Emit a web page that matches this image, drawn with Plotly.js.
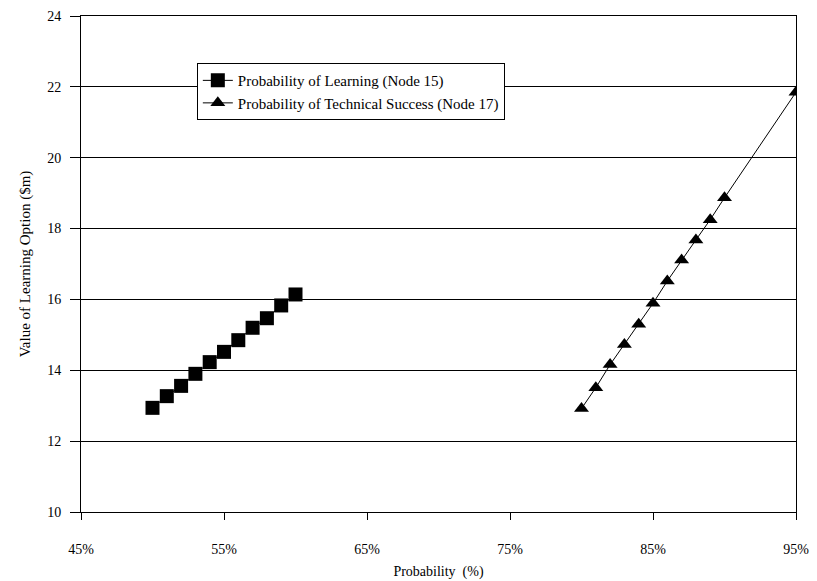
<!DOCTYPE html>
<html>
<head>
<meta charset="utf-8">
<script src="https://cdn.plot.ly/plotly-3.0.1.min.js"></script>
<style>html,body{margin:0;padding:0;background:#fff;}#chart{width:817px;height:581px;}</style>
</head>
<body>
<div id="chart"></div>
<script>
const learningProb = [50, 51, 52, 53, 54, 55, 56, 57, 58, 59, 60];
const learningValue = [12.94, 13.27, 13.56, 13.90, 14.23, 14.52, 14.85, 15.20, 15.47, 15.83, 16.14];
const techProb = [80, 81, 82, 83, 84, 85, 86, 87, 88, 89, 90, 95];
const techValue = [12.92, 13.51, 14.16, 14.73, 15.30, 15.89, 16.52, 17.11, 17.68, 18.25, 18.87, 21.85];
const seriesNames = ["Probability of Learning (Node 15)", "Probability of Technical Success (Node 17)"];
const xTicks = [45, 55, 65, 75, 85, 95];
const yTicks = [10, 12, 14, 16, 18, 20, 22, 24];

const fam = "Liberation Serif, Times New Roman, serif";
const font = {family: fam, size: 14, color: "#000"};

const traces = [
  {x: learningProb, y: learningValue, name: seriesNames[0], mode: "lines+markers",
   line: {color: "#000", width: 1}, marker: {symbol: "square", size: 14, color: "#000"}},
  {x: techProb, y: techValue, name: seriesNames[1], mode: "lines+markers",
   line: {color: "#000", width: 1}, marker: {symbol: "triangle-up", size: 13, color: "#000"}}
];

const layout = {
  width: 817, height: 581,
  margin: {l: 81, r: 21, t: 16, b: 69},
  paper_bgcolor: "#fff", plot_bgcolor: "#fff",
  font: font,
  showlegend: true,
  legend: {x: 0.162, y: 0.905, xanchor: "left", yanchor: "top",
    bgcolor: "#fff", bordercolor: "#000", borderwidth: 1,
    font: {family: fam, size: 15, color: "#000"}, tracegroupgap: 0},
  xaxis: {range: [45, 95], tickvals: xTicks, ticktext: xTicks.map(v => v + "%"),
    showgrid: false, zeroline: false, showline: true, linecolor: "#000", linewidth: 1,
    mirror: true, ticks: "outside", ticklen: 7, tickcolor: "#000", ticklabelstandoff: 17,
    title: {text: "Probability  (%)", font: font, standoff: 10}},
  yaxis: {range: [10, 24], tickvals: yTicks, showgrid: true, gridcolor: "#000", gridwidth: 1,
    zeroline: false, showline: true, linecolor: "#000", linewidth: 1, mirror: true,
    ticks: "outside", ticklen: 10, tickcolor: "#000", ticklabelstandoff: 6,
    title: {text: "Value of Learning Option ($m)", font: {family: fam, size: 15, color: "#000"}, standoff: 12}}
};

Plotly.newPlot("chart", traces, layout, {displayModeBar: false, staticPlot: true});
</script>
</body>
</html>
